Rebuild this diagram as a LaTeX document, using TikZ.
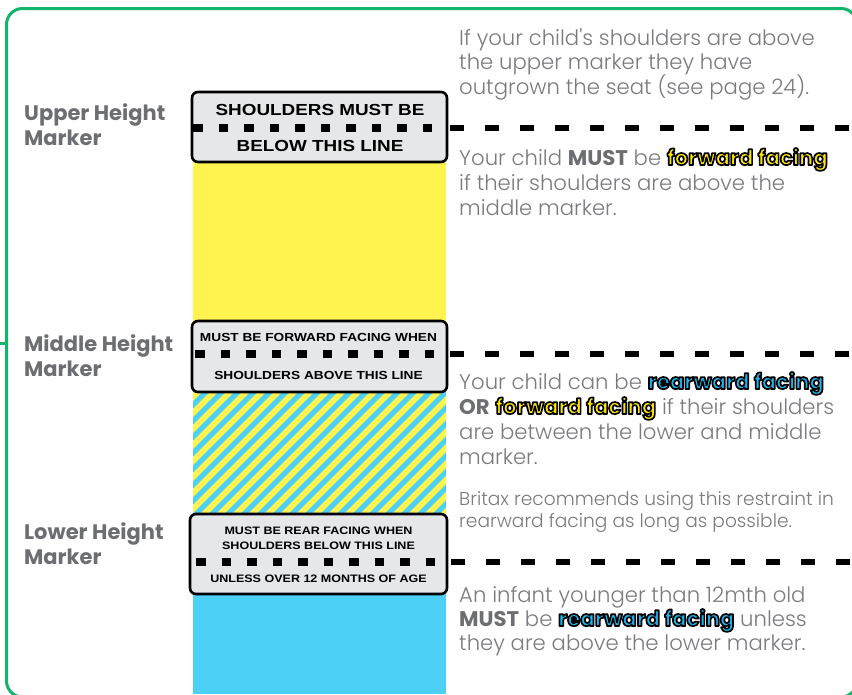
\documentclass[tikz,border=0pt]{standalone}
\usepackage{fontspec}
\usepackage{graphicx}
\newfontfamily\plight{Poppins Light}
\newfontfamily\pbold{Poppins Bold}
\newfontfamily\arialf{Liberation Sans}
\definecolor{bordergreen}{HTML}{14B46C}
\definecolor{colyellow}{HTML}{FFF34F}
\definecolor{colblue}{HTML}{4DD0F5}
\definecolor{boxgray}{HTML}{E6E7E8}
\definecolor{txtgray}{HTML}{7A7B7E}
\definecolor{lblgray}{HTML}{6D6E71}
\definecolor{hlyellow}{HTML}{FFE600}
\definecolor{hlblue}{HTML}{1BB4EC}
\newcommand{\hlt}[2]{{\pbold\color{#1}\special{pdf:literal direct 0 0 0 RG 1.7 w 1 j 2 Tr}#2\special{pdf:literal direct 0 Tr}}}
\newcommand{\hly}[1]{\hlt{hlyellow}{#1}}
\newcommand{\hlb}[1]{\hlt{hlblue}{#1}}
\newcommand{\bm}[1]{{\pbold\color{lblgray}#1}}
\tikzset{
  markerbox/.style={draw=black, line width=2.6pt, fill=boxgray, rounded corners=6pt, inner sep=0pt},
  innerdash/.style={line width=8pt, dash pattern=on 9.5pt off 16pt},
  outerdash/.style={line width=6.5pt, dash pattern=on 14pt off 21pt},
  boxtxt/.style={anchor=base, inner sep=0pt, font=\arialf\bfseries},
  body/.style={anchor=base west, inner sep=0pt, text=txtgray, font=\plight\fontsize{21.2}{25}\selectfont},
  small/.style={anchor=base west, inner sep=0pt, text=txtgray, font=\plight\fontsize{18.6}{23}\selectfont},
  lbl/.style={anchor=base west, inner sep=0pt, text=lblgray, font=\pbold\fontsize{21}{25}\selectfont}
}
\begin{document}
\begin{tikzpicture}[x=1pt,y=-1pt]
\clip (0,0) rectangle (852,694);
\fill[white] (0,0) rectangle (852,694);
% frame
\draw[bordergreen, line width=3pt, rounded corners=16pt] (6.5,8.5) rectangle (857,697);
\draw[bordergreen, line width=3pt] (0,343) -- (6.5,343);
% column
\fill[colyellow] (193,160) rectangle (446,324);
\begin{scope}
  \clip (193,390) rectangle (446,516);
  \fill[colblue] (193,390) rectangle (446,516);
  \foreach \i in {0,...,26}
    \draw[colyellow, line width=5.7pt] (60+\i*16,530) -- ++(160,-160);
\end{scope}
\fill[colblue] (193,592) rectangle (446,694);
% marker boxes
\node[markerbox, minimum width=255pt, minimum height=70pt] (ub) at (319.5,127) {};
\node[markerbox, minimum width=255pt, minimum height=71pt] (mb) at (319.5,356.5) {};
\node[markerbox, minimum width=257pt, minimum height=80pt] (lb) at (318.5,554) {};
% box texts
\node[boxtxt, font=\arialf\bfseries\fontsize{16}{16}\selectfont] (ut1) at (320,115.3) {\scalebox{1.18}[1]{SHOULDERS MUST BE}};
\node[boxtxt, font=\arialf\bfseries\fontsize{16}{16}\selectfont] (ut2) at (320,151.7) {\scalebox{1.18}[1]{BELOW THIS LINE}};
\node[boxtxt, font=\arialf\bfseries\fontsize{11.7}{12}\selectfont] (mt1) at (318.5,341.7) {\scalebox{1.17}[1]{MUST BE FORWARD FACING WHEN}};
\node[boxtxt, font=\arialf\bfseries\fontsize{11.7}{12}\selectfont] (mt2) at (318.5,379.3) {\scalebox{1.17}[1]{SHOULDERS ABOVE THIS LINE}};
\node[boxtxt, font=\arialf\bfseries\fontsize{10.8}{11}\selectfont] (lt1) at (318.5,534.3) {\scalebox{1.16}[1]{MUST BE REAR FACING WHEN}};
\node[boxtxt, font=\arialf\bfseries\fontsize{10.8}{11}\selectfont] (lt2) at (318.5,549) {\scalebox{1.16}[1]{SHOULDERS BELOW THIS LINE}};
\node[boxtxt, font=\arialf\bfseries\fontsize{10.8}{11}\selectfont] (lt3) at (318.5,582.3) {\scalebox{1.16}[1]{UNLESS OVER 12 MONTHS OF AGE}};
% dashed marker lines
\coordinate (uend) at (852,128);
\coordinate (mend) at (852,354);
\coordinate (lend) at (852,562);
\begin{scope}
  \clip (193,0) rectangle (447,694);
  \draw[innerdash] (193,128) -- (ub.east |- uend);
  \draw[innerdash] (195,354) -- (mb.east |- mend);
  \draw[innerdash] (196,562) -- (lb.east |- lend);
\end{scope}
\draw[outerdash] ([xshift=2pt]ub.east |- uend) -- (uend);
\draw[outerdash] ([xshift=2pt]mb.east |- mend) -- (mend);
\draw[outerdash] ([xshift=3pt]lb.east |- lend) -- (lend);
% left labels
\node[lbl] (ul1) at (24,120) {Upper Height};
\node[lbl] (ul2) at (24,145) {Marker};
\node[lbl] (ml1) at (24,351) {Middle Height};
\node[lbl] (ml2) at (24,376) {Marker};
\node[lbl] (ll1) at (24,539) {Lower Height};
\node[lbl] (ll2) at (24,564) {Marker};
% right texts
\node[body] (a1) at (459,45) {If your child's shoulders are above};
\node[body] (a2) at (459,69.5) {the upper marker they have};
\node[body] (a3) at (459,94) {outgrown the seat (see page 24).};
\node[body] (b1) at (459,165) {Your child \bm{MUST} be \hly{forward facing}};
\node[body] (b2) at (459,190) {if their shoulders are above the};
\node[body] (b3) at (459,215) {middle marker.};
\node[body] (c1) at (459,389) {Your child can be \hlb{rearward facing}};
\node[body] (c2) at (459,414) {\bm{OR} \hly{forward facing} if their shoulders};
\node[body] (c3) at (459,439) {are between the lower and middle};
\node[body] (c4) at (459,464) {marker.};
\node[small] (d1) at (459,505) {Britax recommends using this restraint in};
\node[small] (d2) at (459,527) {rearward facing as long as possible.};
\node[body] (e1) at (459,602) {An infant younger than 12mth old};
\node[body] (e2) at (459,626) {\bm{MUST} be \hlb{rearward facing} unless};
\node[body] (e3) at (459,650) {they are above the lower marker.};
\end{tikzpicture}
\end{document}
